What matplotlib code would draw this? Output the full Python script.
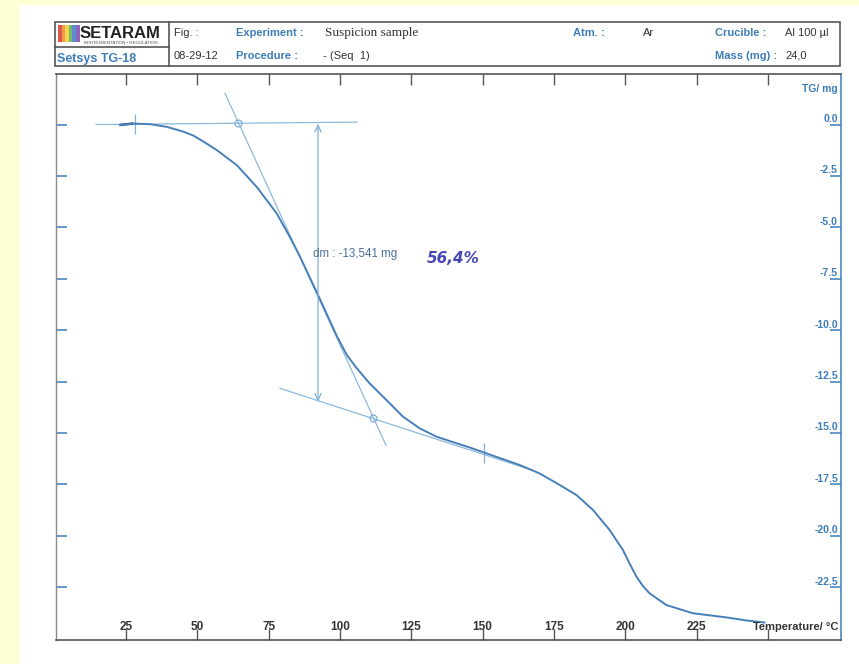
import matplotlib
matplotlib.use("Agg")
import matplotlib.pyplot as plt
from matplotlib.patches import Rectangle
import matplotlib.transforms as mtransforms

plt.rcParams["font.family"] = ["Liberation Sans", "DejaVu Sans"]

# TG curve: sample temperature (°C) and mass change (mg)
temperature = [22.9, 27.5, 33.4, 39.3, 45.0, 48.6, 52.7, 56.8, 63.8, 70.8,
               77.8, 82.4, 86.0, 92.3, 98.9, 102.4, 105.8, 110.4, 116.3,
               122.1, 128.0, 133.8, 139.5, 145.5, 151.3, 163.0, 170.0,
               177.0, 182.9, 188.7, 194.5, 199.2, 201.5, 203.9, 206.2,
               208.5, 214.4, 223.7, 235.4, 242.4, 248.8]
mass = [-0.02, 0.05, 0.02, -0.11, -0.34, -0.535, -0.875, -1.24, -1.97, -3.03,
        -4.32, -5.46, -6.43, -8.29, -10.29, -11.21, -11.84, -12.59, -13.40,
        -14.21, -14.78, -15.18, -15.44, -15.71, -15.99, -16.56, -16.97,
        -17.53, -18.02, -18.75, -19.72, -20.70, -21.35, -21.99, -22.45,
        -22.80, -23.37, -23.77, -23.97, -24.12, -24.22]

x_ticks = [25, 50, 75, 100, 125, 150, 175, 200, 225, 250]
x_tick_labels = ["25", "50", "75", "100", "125", "150", "175", "200", "225", ""]
y_ticks = [0.0, -2.5, -5.0, -7.5, -10.0, -12.5, -15.0, -17.5, -20.0, -22.5]
y_tick_labels = ["0.0", "-2.5", "-5.0", "-7.5", "-10.0", "-12.5", "-15.0",
                 "-17.5", "-20.0", "-22.5"]

# step evaluation construction
baseline_T = [14.5, 106.0]
baseline_m = [0.0, 0.12]
slope_T = [59.7, 116.1]
slope_m = [1.52, -15.59]
lower_T = [79.0, 165.3]
lower_m = [-12.83, -16.72]
onset_point = (64.1, 0.09)
endset_point = (111.7, -14.26)
step_T = 92.3
step_top = 0.05
step_dm = -13.541
cross_T = [28.0, 150.5]
cross_m = [0.05, -15.97]

W, H = 859, 664
fig = plt.figure(figsize=(W / 100, H / 100), dpi=100, facecolor="#FFFFD6")

# page and header drawn in pixel coordinates
hax = fig.add_axes([0, 0, 1, 1], zorder=0)
hax.set_xlim(0, W)
hax.set_ylim(H, 0)
hax.axis("off")
hax.add_patch(Rectangle((20, 5), W - 20, H - 5, facecolor="white", edgecolor="none"))

edge = "#555555"
blue_txt = "#3D7DB8"
dark_txt = "#333333"
hax.add_patch(Rectangle((55, 22), 785, 44, facecolor="none", edgecolor=edge, lw=1.2))
hax.plot([169, 169], [22, 66], color=edge, lw=1.2)
hax.plot([55, 169], [46.5, 46.5], color=edge, lw=1.2)

# logo
stripe_cols = ["#D93A2B", "#F08A24", "#F2D230", "#5DB04A", "#3C78C8", "#7B4BA8"]
for i, c in enumerate(stripe_cols):
    hax.add_patch(Rectangle((58 + i * 3.6, 24.5), 3.6, 17.5, facecolor=c,
                            edgecolor="none", alpha=0.85))
hax.text(80, 34, "SETARAM", fontsize=12, fontweight="bold", color="#222222",
         va="center", ha="left")
hax.text(84, 43.2, "INSTRUMENTATION \u2022 REGULATION", fontsize=3.2, color="#555555",
         va="center", ha="left")
hax.text(57, 59, "Setsys TG-18", fontsize=9, fontweight="bold", color=blue_txt,
         va="center", ha="left")

hax.text(174, 33, "Fig. :", fontsize=8, color=dark_txt, va="center")
hax.text(174, 56, "08-29-12", fontsize=8, color=dark_txt, va="center")
hax.text(236, 33, "Experiment :", fontsize=8, fontweight="bold", color=blue_txt, va="center")
hax.text(236, 56, "Procedure :", fontsize=8, fontweight="bold", color=blue_txt, va="center")
hax.text(325, 33, "Suspicion sample", fontsize=9.5, family="Liberation Serif",
         color=dark_txt, va="center")
hax.text(323, 56, "- (Seq  1)", fontsize=8, color=dark_txt, va="center")
hax.text(573, 33, "Atm. :", fontsize=8, fontweight="bold", color=blue_txt, va="center")
hax.text(643, 33, "Ar", fontsize=8, color=dark_txt, va="center")
hax.text(715, 33, "Crucible :", fontsize=8, fontweight="bold", color=blue_txt, va="center")
hax.text(785, 33, "Al 100 \u00b5l", fontsize=8, color=dark_txt, va="center")
hax.text(715, 56, "Mass (mg) :", fontsize=8, fontweight="bold", color=blue_txt, va="center")
hax.text(785, 56, "24,0", fontsize=8, color=dark_txt, va="center")

# main plot
L, R, T, B = 56, 841, 74, 640
ax = fig.add_axes([L / W, (H - B) / H, (R - L) / W, (B - T) / H], zorder=1)
ax.set_facecolor("white")
ax.set_xlim(0.46, 275.6)
ax.set_ylim(-25.07, 2.46)

axis_blue = "#4A86C0"
for side in ("top", "bottom"):
    ax.spines[side].set_color("#555555")
    ax.spines[side].set_linewidth(1.2)
ax.spines["left"].set_color("#8A8A8A")
ax.spines["left"].set_linewidth(1.0)
ax.spines["right"].set_color(axis_blue)
ax.spines["right"].set_linewidth(1.2)

ax.set_xticks(x_ticks)
ax.set_xticklabels([])
ax.tick_params(axis="x", which="both", direction="in", length=8, width=1.0,
               color="#555555", top=True, bottom=True)
ax.set_yticks(y_ticks)
ax.set_yticklabels([])
ax.tick_params(axis="y", which="both", direction="in", length=8, width=1.2,
               color=axis_blue, left=True, right=True)

xb = mtransforms.blended_transform_factory(ax.transData, ax.transAxes)
for t, lab in zip(x_ticks, x_tick_labels):
    if lab:
        ax.text(t, 10 / (B - T), lab, transform=xb, ha="center", va="baseline",
                fontsize=8.5, fontweight="bold", color=dark_txt)
ax.text(1 - 3 / (R - L), 10 / (B - T), "Temperature/ \u00b0C", transform=ax.transAxes,
        ha="right", va="baseline", fontsize=8, fontweight="bold", color=dark_txt)

yb = mtransforms.blended_transform_factory(ax.transAxes, ax.transData)
for v, lab in zip(y_ticks, y_tick_labels):
    ax.annotate(lab, xy=(1, v), xycoords=yb, xytext=(-2.2, 1.8),
                textcoords="offset points", ha="right", va="baseline",
                fontsize=7.5, fontweight="bold", color=blue_txt)
ax.text(1 - 3 / (R - L), 1 - 18 / (B - T), "TG/ mg", transform=ax.transAxes,
        ha="right", va="baseline", fontsize=7.5, fontweight="bold", color=blue_txt)

# construction lines
con = "#8DB9DD"
ax.plot(baseline_T, baseline_m, color=con, lw=0.9)
ax.plot(slope_T, slope_m, color=con, lw=0.9)
ax.plot(lower_T, lower_m, color=con, lw=0.9)
for (px, py) in (onset_point, endset_point):
    ax.plot(px, py, marker="o", ms=5, mfc="none", mec="#7FAFD8", mew=0.9)
ax.plot(cross_T, cross_m, ls="none", marker="|", ms=14, mew=0.9, color="#7FAFD8")
ax.annotate("", xy=(step_T, step_top), xytext=(step_T, step_top + step_dm),
            arrowprops=dict(arrowstyle="<->,head_length=0.5,head_width=0.22",
                            color="#7FAFD8", lw=0.9, shrinkA=0, shrinkB=0))
ax.plot(temperature[:2], mass[:2], color="#2E4E70", lw=1.8, solid_capstyle="butt")

# TG curve
ax.plot(temperature, mass, color="#4780B8", lw=1.4, solid_joinstyle="round")

ax.text(90.7, -6.3, "dm : -13,541 mg", fontsize=8.3, color="#4A6E9A",
        ha="left", va="center")
ax.text(130.5, -6.5, "56,4%", fontsize=11, fontstyle="italic", fontweight="bold",
        family="DejaVu Sans", color="#4545B5", ha="left", va="center")

fig.savefig("out.png", dpi=100, facecolor=fig.get_facecolor())
